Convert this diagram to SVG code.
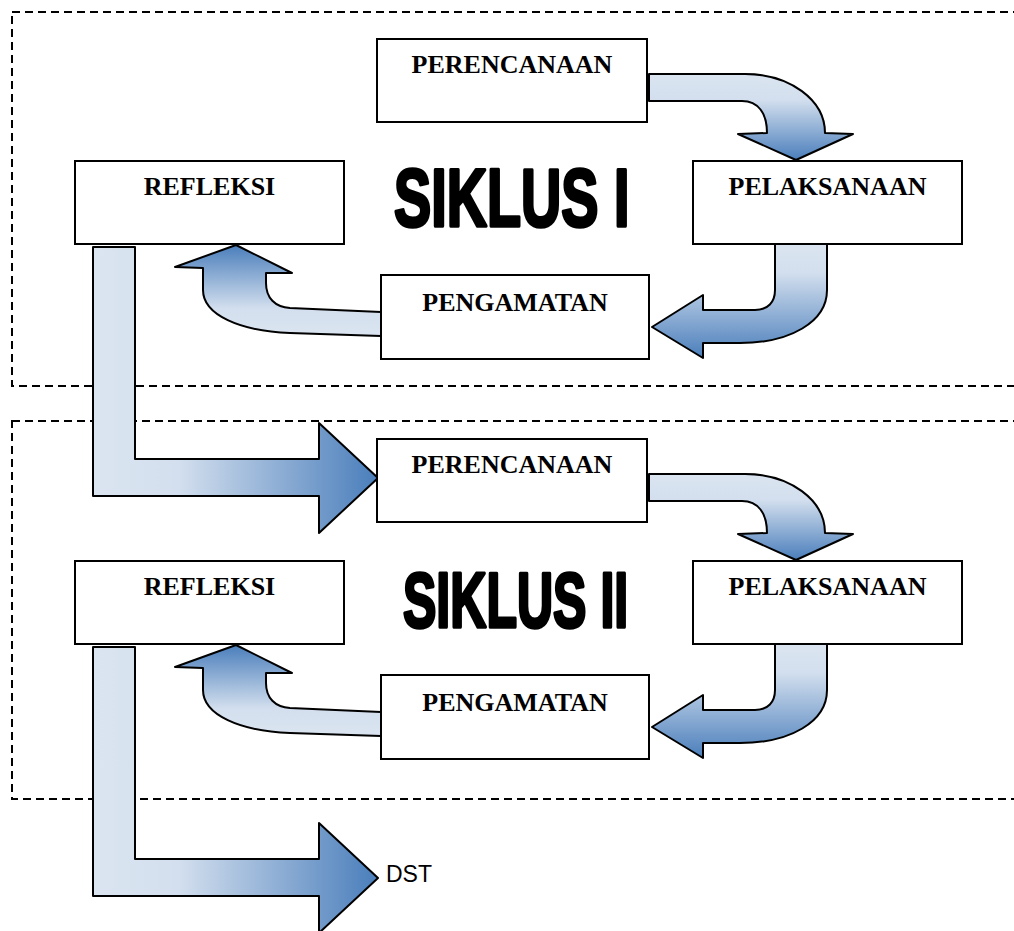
<svg xmlns="http://www.w3.org/2000/svg" width="1014" height="931" viewBox="0 0 1014 931">
<style>
.frame{fill:none;stroke:#000;stroke-width:2;stroke-dasharray:8,5}
.box{fill:#fff;stroke:#000;stroke-width:2}
.lbl{font-family:"Liberation Serif","Times New Roman",serif;font-weight:bold;font-size:26px;fill:#000;text-anchor:middle}
.arr{stroke:#000;stroke-width:2;stroke-linejoin:round}
.big{font-family:"Liberation Sans",Arial,sans-serif;font-weight:bold;fill:#000;stroke:#000;stroke-width:3.5;stroke-linejoin:round}
.dst{font-family:"Liberation Sans",Arial,sans-serif;font-size:23px;fill:#000}
</style>
<defs>
<linearGradient id="gL" gradientUnits="userSpaceOnUse" x1="93" y1="0" x2="378" y2="0">
<stop offset="0" stop-color="#dbe5f1"/><stop offset="0.3" stop-color="#d3dfee"/><stop offset="1" stop-color="#4a7ebb"/>
</linearGradient>
<linearGradient id="g1" gradientUnits="userSpaceOnUse" x1="0" y1="74" x2="0" y2="160">
<stop offset="0" stop-color="#dbe5f1"/><stop offset="0.3" stop-color="#d3dfee"/><stop offset="1" stop-color="#4a7ebb"/>
</linearGradient>
<linearGradient id="g2" gradientUnits="userSpaceOnUse" x1="0" y1="244" x2="0" y2="358">
<stop offset="0" stop-color="#dbe5f1"/><stop offset="0.25" stop-color="#d3dfee"/><stop offset="1" stop-color="#4a7ebb"/>
</linearGradient>
<linearGradient id="g3" gradientUnits="userSpaceOnUse" x1="0" y1="336" x2="0" y2="245">
<stop offset="0" stop-color="#dbe5f1"/><stop offset="0.3" stop-color="#d3dfee"/><stop offset="1" stop-color="#4a7ebb"/>
</linearGradient>
<path id="a1" d="M649,74 L745,74 C790,74 825,100 825,133 L853,134 L796,160 L738,134 L767,133 C767,113 758,101 742,101 L649,101 Z"/>
<path id="a2" d="M775,244 L827,244 L827,290 C827,322 790,343 740,343 L703,343 L703,358 L652,327 L703,295 L703,310 L755,310 C768,310 775,302 775,290 Z"/>
<path id="a3" d="M381,312 L290,308 C275,307 266,298 266,283 L266,273 L292,273 L236,245 L175,267 L203,268 L203,290 C203,315 240,331 290,333 L381,336 Z"/>
<path id="aL" d="M93,247 L135,247 L135,459 L319,459 L319,423 L378,478 L319,533 L319,496 L93,496 Z"/>
</defs>
<g id="frames">
<rect class="frame" x="12" y="12" width="1010" height="374"/>
<rect class="frame" x="12" y="421" width="1010" height="378"/>
</g>
<g id="connectors">
<use href="#a1" class="arr" fill="url(#g1)"/>
<use href="#a2" class="arr" fill="url(#g2)"/>
<use href="#a3" class="arr" fill="url(#g3)"/>
<use href="#aL" class="arr" fill="url(#gL)"/>
<g transform="translate(0,400)">
<use href="#a1" class="arr" fill="url(#g1)"/>
<use href="#a2" class="arr" fill="url(#g2)"/>
<use href="#a3" class="arr" fill="url(#g3)"/>
<use href="#aL" class="arr" fill="url(#gL)"/>
</g>
</g>
<g id="perencanaan1"><rect class="box" x="377" y="39" width="270" height="83"/><text class="lbl" x="512" y="73">PERENCANAAN</text></g>
<g id="pelaksanaan1"><rect class="box" x="693" y="161" width="269" height="83"/><text class="lbl" x="827.5" y="195">PELAKSANAAN</text></g>
<g id="refleksi1"><rect class="box" x="75" y="161" width="269" height="83"/><text class="lbl" x="209.5" y="195">REFLEKSI</text></g>
<g id="pengamatan1"><rect class="box" x="381" y="275" width="268" height="84"/><text class="lbl" x="515" y="311">PENGAMATAN</text></g>
<g id="perencanaan2"><rect class="box" x="377" y="439" width="270" height="83"/><text class="lbl" x="512" y="473">PERENCANAAN</text></g>
<g id="pelaksanaan2"><rect class="box" x="693" y="561" width="269" height="83"/><text class="lbl" x="827.5" y="595">PELAKSANAAN</text></g>
<g id="refleksi2"><rect class="box" x="75" y="561" width="269" height="83"/><text class="lbl" x="209.5" y="595">REFLEKSI</text></g>
<g id="pengamatan2"><rect class="box" x="381" y="675" width="268" height="84"/><text class="lbl" x="515" y="711">PENGAMATAN</text></g>
<g id="siklus1"><text class="big" transform="translate(394,226) scale(0.68,1)" x="0" y="0" font-size="82">SIKLUS I</text></g>
<g id="siklus2"><text class="big" transform="translate(403,627) scale(0.65,1)" x="0" y="0" font-size="77">SIKLUS II</text></g>
<g id="dst"><text class="dst" x="386" y="882">DST</text></g>
</svg>
